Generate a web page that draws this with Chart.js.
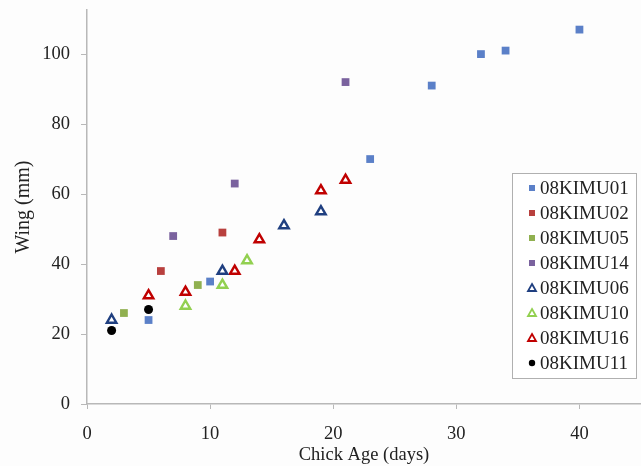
<!DOCTYPE html>
<html>
<head>
<meta charset="utf-8">
<script src="https://cdn.jsdelivr.net/npm/chart.js@4/dist/chart.umd.min.js"></script>
<style>
  body { margin: 0; background: #fdfdfd; }
  #wrap { position: relative; width: 641px; height: 466px; }
</style>
</head>
<body>
<div id="wrap"><canvas id="chart"></canvas></div>
<script>
// chick ages (days) and wing lengths (mm) per bird
var names = ['08KIMU01', '08KIMU02', '08KIMU05', '08KIMU14', '08KIMU06', '08KIMU10', '08KIMU16', '08KIMU11'];
var ageKIMU01 = [5, 10, 23, 28, 32, 34, 40];
var wingKIMU01 = [24, 35, 70, 91, 100, 101, 107];
var ageKIMU02 = [6, 11];
var wingKIMU02 = [38, 49];
var ageKIMU05 = [3, 9];
var wingKIMU05 = [26, 34];
var ageKIMU14 = [7, 12, 21];
var wingKIMU14 = [48, 63, 92];
var ageKIMU06 = [2, 11, 16, 19];
var wingKIMU06 = [24, 38, 51, 55];
var ageKIMU10 = [8, 11, 13];
var wingKIMU10 = [28, 34, 41];
var ageKIMU16 = [5, 8, 12, 14, 19, 21];
var wingKIMU16 = [31, 32, 38, 47, 61, 64];
var ageKIMU11 = [2, 5];
var wingKIMU11 = [21, 27];
var xTicks = [0, 10, 20, 30, 40];
var yTicks = [0, 20, 40, 60, 80, 100];

var ages = [ageKIMU01, ageKIMU02, ageKIMU05, ageKIMU14, ageKIMU06, ageKIMU10, ageKIMU16, ageKIMU11];
var wings = [wingKIMU01, wingKIMU02, wingKIMU05, wingKIMU14, wingKIMU06, wingKIMU10, wingKIMU16, wingKIMU11];

var styles = [
  { shape: 'rect', color: '#5b80c8', fill: true, r: 5.5 },
  { shape: 'rect', color: '#b8403e', fill: true, r: 5.5 },
  { shape: 'rect', color: '#90b050', fill: true, r: 5.5 },
  { shape: 'rect', color: '#7a629e', fill: true, r: 5.5 },
  { shape: 'triangle', color: '#1f3f80', fill: false, r: 5.5 },
  { shape: 'triangle', color: '#92d050', fill: false, r: 5.5 },
  { shape: 'triangle', color: '#c00000', fill: false, r: 5.5 },
  { shape: 'circle', color: '#000000', fill: true, r: 4.5 }
];

var serif = '"Liberation Serif", "DejaVu Serif", serif';

function pts(xs, ys) {
  var out = [];
  for (var i = 0; i < xs.length; i++) out.push({ x: xs[i], y: ys[i] });
  return out;
}

var datasets = names.map(function (n, i) {
  var s = styles[i];
  return {
    label: n,
    data: pts(ages[i], wings[i]),
    pointStyle: s.shape,
    pointRadius: s.r,
    pointBorderWidth: s.fill ? 0 : 2.4,
    borderColor: s.color,
    backgroundColor: s.fill ? s.color : '#ffffff'
  };
});

// legend box drawn inside the plot, like the original
var boxLegend = {
  id: 'boxLegend',
  afterDraw: function (chart) {
    var ctx = chart.ctx;
    var x0 = 512, y0 = 173, w = 124, h = 205;
    ctx.save();
    ctx.fillStyle = '#ffffff';
    ctx.fillRect(x0, y0, w, h);
    ctx.strokeStyle = '#b0b0b0';
    ctx.lineWidth = 1;
    ctx.strokeRect(x0 + 0.5, y0 + 0.5, w, h);
    ctx.font = '19px ' + serif;
    ctx.textBaseline = 'middle';
    ctx.textAlign = 'left';
    names.forEach(function (n, i) {
      var s = styles[i];
      var cy = 188 + i * 25;
      var cx = 532;
      ctx.fillStyle = s.color;
      ctx.strokeStyle = s.color;
      if (s.shape === 'rect') {
        ctx.fillRect(cx - 3, cy - 3, 6, 6);
      } else if (s.shape === 'circle') {
        ctx.beginPath();
        ctx.arc(cx, cy, 3.2, 0, Math.PI * 2);
        ctx.fill();
      } else {
        ctx.lineWidth = 1.8;
        ctx.beginPath();
        ctx.moveTo(cx, cy - 4);
        ctx.lineTo(cx + 4, cy + 3);
        ctx.lineTo(cx - 4, cy + 3);
        ctx.closePath();
        ctx.stroke();
      }
      ctx.fillStyle = '#222222';
      ctx.fillText(n, 540, cy + 1);
    });
    ctx.restore();
  }
};

new Chart(document.getElementById('chart'), {
  type: 'scatter',
  data: { datasets: datasets },
  plugins: [boxLegend],
  options: {
    responsive: true,
    maintainAspectRatio: false,
    animation: false,
    layout: { autoPadding: false, padding: { top: 10, right: 0, bottom: 0, left: 0 } },
    plugins: { legend: { display: false }, tooltip: { enabled: false } },
    scales: {
      x: {
        min: 0, max: 45,
        afterBuildTicks: function (s) { s.ticks = xTicks.map(function (v) { return { value: v }; }); },
        afterFit: function (s) { s.height = 62; s.paddingLeft = 0; s.paddingRight = 0; },
        grid: { drawOnChartArea: false, drawTicks: true, tickLength: 5, color: '#b8b8b8' },
        border: { color: '#b8b8b8', width: 1.5 },
        ticks: { color: '#222', font: { family: serif, size: 18.5 }, padding: 14, maxRotation: 0 },
        title: { display: true, text: 'Chick Age (days)', color: '#222', font: { family: serif, size: 18.5 }, padding: { top: 2, bottom: 0 } }
      },
      y: {
        min: 0, max: 112.6,
        afterBuildTicks: function (s) { s.ticks = yTicks.map(function (v) { return { value: v }; }); },
        afterFit: function (s) { s.width = 87; s.paddingTop = 0; s.paddingBottom = 0; },
        grid: { drawOnChartArea: false, drawTicks: true, tickLength: 6, color: '#b8b8b8' },
        border: { color: '#b8b8b8', width: 1.5 },
        ticks: { color: '#222', font: { family: serif, size: 18.5 }, padding: 11 },
        title: { display: true, text: 'Wing (mm)', color: '#222', font: { family: serif, size: 20 }, padding: { top: 12, bottom: 4 } }
      }
    }
  }
});
</script>
</body>
</html>
